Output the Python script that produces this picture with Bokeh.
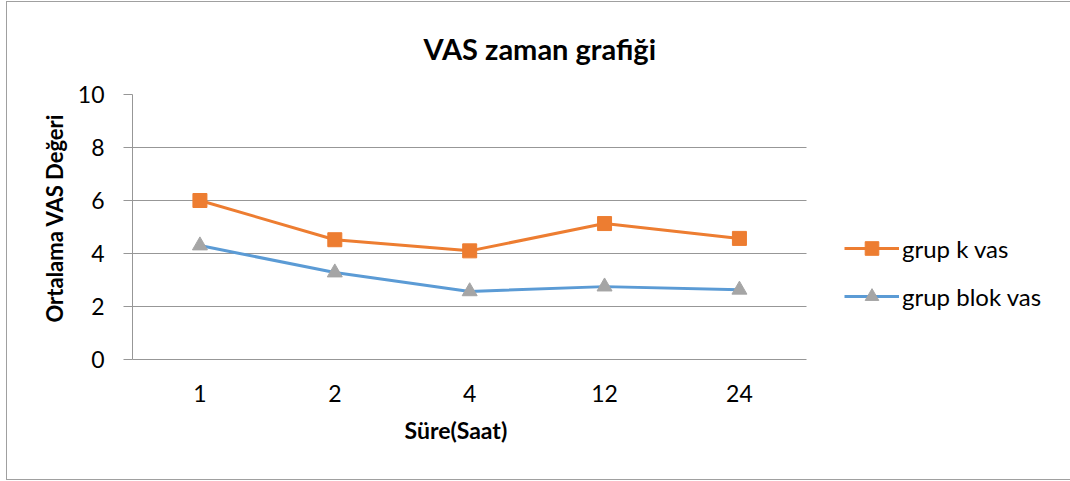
from bokeh.plotting import figure
from bokeh.models import (Legend, LegendItem, ColumnDataSource, Range1d,
                          FixedTicker, Title)
from bokeh.embed import file_html
from bokeh.resources import INLINE

# ---- data ----
hours = ["1", "2", "4", "12", "24"]
grup_k_vas = [6.0, 4.52, 4.1, 5.13, 4.57]
grup_blok_vas = [4.3, 3.28, 2.57, 2.75, 2.63]
y_ticks = [0, 2, 4, 6, 8, 10]

title_text = "VAS zaman grafiği"
x_label = "Süre(Saat)"
y_label = "Ortalama VAS Değeri"
series_names = ["grup k vas", "grup blok vas"]

FONT = "Lato"
ORANGE = "#ED7D31"
BLUE = "#5B9BD5"
GRAY = "#A5A5A5"
GRID = "#979797"
BORDER = "1px solid #a0a0a0"

# category slots: each hour sits in the middle of its slot
n = len(hours)
xpos = [i + 0.5 for i in range(n)]
src = ColumnDataSource(dict(x=xpos, k=grup_k_vas, b=grup_blok_vas))

# the frame runs to the right edge; the five slots occupy ~672 px of it,
# leaving room on the right for the legend
x_end = n * 935 / 671.5

p = figure(width=1064, height=479, x_range=Range1d(0, x_end), y_range=(0, 10),
           output_backend="svg", toolbar_location=None,
           min_border_left=125, min_border_right=0,
           min_border_top=92, min_border_bottom=122)
p.styles = {"margin-left": "6px", "margin-top": "1px",
            "border-left": BORDER, "border-top": BORDER, "border-bottom": BORDER}
p.outline_line_color = None
p.background_fill_color = "white"
p.border_fill_color = "white"

# title
p.title.text = title_text
p.title.align = "left"
p.title.offset = 291
p.title.vertical_align = "top"
p.title.text_font = FONT
p.title.text_font_style = "bold"
p.title.text_font_size = "29px"
p.title.text_color = "#000000"
p.title.standoff = 54

# grid
p.xgrid.grid_line_color = None
yg = p.ygrid[0]
yg.grid_line_color = GRID
yg.grid_line_width = 1
if "cross_bounds" in yg.properties():
    yg.cross_bounds = (0, n)

# y axis
p.yaxis.ticker = y_ticks
p.yaxis.minor_tick_line_color = None
p.yaxis.major_tick_in = 0
p.yaxis.major_tick_out = 9
p.yaxis.major_tick_line_color = GRID
p.yaxis.axis_line_color = GRID
p.yaxis.major_label_text_font = FONT
p.yaxis.major_label_text_font_size = "23px"
p.yaxis.major_label_text_color = "#000000"
p.yaxis.major_label_standoff = 19

# y-axis title
yt = Title(text=y_label, align="left", offset=37, standoff=14,
           text_font=FONT, text_font_style="bold", text_font_size="22px",
           text_color="#000000")
p.add_layout(yt, "left")

# x axis
p.xaxis.ticker = FixedTicker(ticks=xpos)
p.xaxis.major_label_overrides = {x: h for x, h in zip(xpos, hours)}
p.xaxis.bounds = (0, n)
p.xaxis.major_tick_line_color = None
p.xaxis.minor_tick_line_color = None
p.xaxis.axis_line_color = GRID
p.xaxis.major_label_text_font = FONT
p.xaxis.major_label_text_font_size = "23px"
p.xaxis.major_label_text_color = "#000000"
p.xaxis.major_label_standoff = 19

# x-axis title, centred under the five slots rather than the whole frame
xt = Title(text=x_label, align="left", offset=272, standoff=18,
           text_font=FONT, text_font_style="bold", text_font_size="23px",
           text_color="#000000")
p.add_layout(xt, "below")

# series
l1 = p.line("x", "k", source=src, line_color=ORANGE, line_width=3)
m1 = p.scatter("x", "k", source=src, marker="square", size=14,
               fill_color=ORANGE, line_color=ORANGE)
l2 = p.line("x", "b", source=src, line_color=BLUE, line_width=3)
m2 = p.scatter("x", "b", source=src, marker="triangle", size=15,
               fill_color=GRAY, line_color=GRAY)

legend = Legend(items=[LegendItem(label=series_names[0], renderers=[l1, m1]),
                       LegendItem(label=series_names[1], renderers=[l2, m2])],
                location=(712, 46), orientation="vertical",
                glyph_width=55, glyph_height=34, spacing=14,
                label_standoff=3, padding=14, margin=0,
                border_line_color=None, background_fill_alpha=0,
                label_text_font=FONT, label_text_font_size="24px",
                label_text_color="#000000")
p.add_layout(legend)

open("out.html", "w").write(file_html(p, INLINE))
